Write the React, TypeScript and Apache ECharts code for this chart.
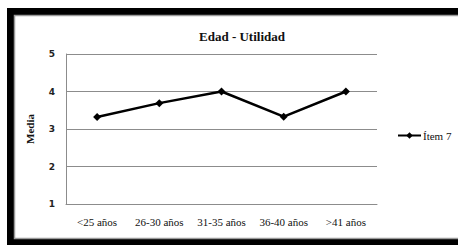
import React, { useEffect, useRef } from "react";
import * as echarts from "echarts";

const categories = ["<25 años", "26-30 años", "31-35 años", "36-40 años", ">41 años"];
const seriesName = "Ítem 7";
const values = [3.32, 3.69, 4.0, 3.33, 4.0];
const chartTitle = "Edad - Utilidad";
const yAxisName = "Media";

const SERIF = "Liberation Serif";
const SANS = "DejaVu Sans";

export default function App() {
  const ref = useRef<HTMLDivElement>(null);
  useEffect(() => {
    if (!ref.current) return;
    const chart = echarts.init(ref.current, null, { renderer: "svg" });
    chart.setOption({
      animation: false,
      backgroundColor: "#ffffff",
      graphic: [
        { type: "rect", z: -10, shape: { x: 7, y: 8, width: 460, height: 245 }, style: { fill: "#000000" }, silent: true },
        { type: "rect", z: -9, shape: { x: 14.5, y: 15.5, width: 450, height: 223 }, style: { fill: "#ffffff", stroke: "#9a9a9a", lineWidth: 1.5 }, silent: true },
      ],
      title: {
        text: chartTitle,
        left: 237,
        top: 25,
        textAlign: "center",
        textStyle: { fontFamily: SERIF, fontWeight: "bold", fontSize: 13, color: "#111" },
      },
      legend: {
        left: 392,
        top: 125,
        itemWidth: 23,
        itemHeight: 8,
        itemGap: 4,
        textStyle: { fontFamily: SERIF, fontSize: 11, color: "#111", padding: [0, 0, 0, -3] },
        data: [seriesName],
      },
      grid: { left: 66, right: 81, top: 54, bottom: 41, containLabel: false },
      xAxis: {
        type: "category",
        data: categories,
        boundaryGap: true,
        axisLine: { show: true, lineStyle: { color: "#8c8c8c", width: 1 } },
        axisTick: { show: false },
        axisLabel: { interval: 0, fontFamily: SERIF, fontSize: 11, color: "#111", margin: 12 },
      },
      yAxis: {
        type: "value",
        min: 1,
        max: 5,
        interval: 1,
        name: yAxisName,
        nameLocation: "middle",
        nameGap: 31,
        nameRotate: 90,
        nameTextStyle: { fontFamily: SERIF, fontWeight: "bold", fontSize: 11, color: "#111" },
        axisLine: { show: true, lineStyle: { color: "#8c8c8c", width: 1 } },
        axisTick: { show: false },
        splitLine: { show: true, lineStyle: { color: "#8c8c8c", width: 1 } },
        axisLabel: { fontFamily: SANS, fontWeight: "bold", fontSize: 9, color: "#222", margin: 11 },
      },
      series: [
        {
          name: seriesName,
          type: "line",
          data: values,
          symbol: "diamond",
          symbolSize: 8,
          lineStyle: { color: "#000000", width: 2.5 },
          itemStyle: { color: "#000000" },
        },
      ],
    });
    return () => chart.dispose();
  }, []);
  return <div ref={ref} style={{ position: "fixed", left: 0, top: 0, width: 458, height: 245 }} />;
}
